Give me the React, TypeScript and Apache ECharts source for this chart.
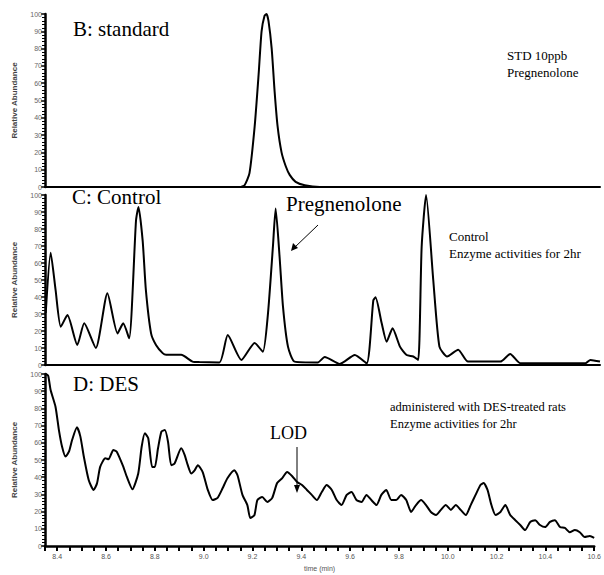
import React, { useEffect, useRef } from "react";
import * as echarts from "echarts";

const xTicks = [8.4, 8.6, 8.8, 9.0, 9.2, 9.4, 9.6, 9.8, 10.0, 10.2, 10.4, 10.6];
const yTicks = [0, 10, 20, 30, 40, 50, 60, 70, 80, 90, 100];

const standardB: [number, number][] = [
  [8.35, 0], [9.139, 0], [9.159, 1], [9.179, 8], [9.2, 35], [9.216, 65], [9.228, 90],
  [9.24, 99], [9.248, 100], [9.256, 96], [9.269, 80], [9.281, 55], [9.293, 35],
  [9.309, 20], [9.326, 12], [9.342, 7], [9.366, 3], [9.403, 1], [9.464, 0], [10.6, 0],
];

const controlC: [number, number][] = [
  [8.353, 30.6], [8.373, 66], [8.393, 44], [8.414, 22.5], [8.441, 29.4], [8.481, 11.8],
  [8.509, 24.5], [8.556, 10], [8.603, 42.2], [8.644, 18.6], [8.667, 24.5], [8.691, 15.7],
  [8.719, 85], [8.729, 93], [8.746, 73], [8.759, 44], [8.78, 18.6], [8.8, 11.8],
  [8.827, 7], [8.841, 6], [8.902, 6], [8.948, 2], [8.976, 1.7], [9.057, 1.5],
  [9.091, 17.6], [9.146, 3], [9.2, 13], [9.233, 7.8], [9.254, 30.4], [9.274, 69.6],
  [9.285, 92], [9.301, 63.7], [9.315, 34], [9.335, 10.8], [9.362, 2], [9.456, 1.5],
  [9.484, 4.7], [9.545, 0.6], [9.606, 5.9], [9.654, 1], [9.681, 38], [9.69, 39.8],
  [9.715, 24.5], [9.735, 13.7], [9.759, 21.6], [9.789, 10.8], [9.816, 5.9], [9.843, 5],
  [9.863, 3], [9.877, 69.6], [9.895, 100], [9.924, 50], [9.949, 10.8], [9.98, 5],
  [10.025, 9], [10.065, 2], [10.196, 2], [10.236, 6.5], [10.277, 1], [10.541, 1],
  [10.561, 3], [10.6, 2],
];

const desD: [number, number][] = [
  [8.353, 100], [8.363, 99], [8.373, 90.7], [8.393, 81], [8.407, 67.4], [8.42, 57.7],
  [8.434, 52], [8.448, 54.8], [8.461, 61.6], [8.481, 69], [8.495, 63.6], [8.509, 52],
  [8.529, 38.4], [8.549, 32.6], [8.563, 36.4], [8.576, 46], [8.597, 51], [8.61, 50.4],
  [8.63, 55.8], [8.644, 54.8], [8.671, 46], [8.685, 40.3], [8.708, 33], [8.732, 42.2],
  [8.746, 57.7], [8.759, 65.5], [8.773, 62.6], [8.789, 46], [8.8, 46], [8.813, 56.8],
  [8.827, 66.5], [8.841, 67.4], [8.854, 60.6], [8.867, 47], [8.881, 48], [8.908, 56.8],
  [8.922, 53], [8.935, 47], [8.949, 42.2], [8.963, 44], [8.976, 47], [8.996, 43],
  [9.017, 32.6], [9.037, 26.7], [9.057, 28], [9.078, 33.7], [9.098, 39.5], [9.126, 44],
  [9.139, 41], [9.159, 29.7], [9.179, 23.8], [9.191, 16.3], [9.208, 18], [9.22, 26.7],
  [9.24, 28.5], [9.261, 25.6], [9.281, 28], [9.301, 36.6], [9.322, 39.5], [9.342, 43],
  [9.362, 40.7], [9.383, 37.2], [9.403, 35.5], [9.423, 32.6], [9.443, 29.7], [9.464, 26.7],
  [9.484, 31.4], [9.504, 35.5], [9.525, 32.6], [9.545, 26.7], [9.565, 23.8], [9.586, 29.7],
  [9.606, 31.4], [9.626, 26.7], [9.647, 25.6], [9.667, 29.7], [9.687, 26.7], [9.708, 23.8],
  [9.728, 29.7], [9.748, 32.6], [9.769, 26.7], [9.789, 26.7], [9.809, 29.7], [9.83, 26.7],
  [9.85, 19.8], [9.87, 23.8], [9.891, 26.7], [9.911, 23.8], [9.931, 19.8], [9.952, 18],
  [9.972, 21], [9.992, 23.8], [10.013, 21], [10.033, 23.8], [10.053, 21], [10.074, 18],
  [10.094, 23.8], [10.114, 29.7], [10.134, 35.5], [10.147, 36.6], [10.163, 32.6],
  [10.179, 23.8], [10.196, 18], [10.216, 19.8], [10.236, 23.8], [10.256, 18], [10.277, 15],
  [10.297, 12.2], [10.317, 9.3], [10.338, 14], [10.358, 15], [10.378, 12.2], [10.399, 11],
  [10.419, 14], [10.439, 15], [10.46, 11], [10.48, 10.5], [10.5, 8], [10.521, 9.3],
  [10.541, 8], [10.561, 5.2], [10.582, 5.8], [10.6, 4.7],
];

const SERIF = "'Liberation Serif', 'DejaVu Serif', serif";
const SANS = "'Liberation Sans', Arial, sans-serif";

export default function App() {
  const ref = useRef<HTMLDivElement>(null);
  useEffect(() => {
    document.body.style.margin = "0";
    const chart = echarts.init(ref.current!, null, { renderer: "svg" });
    const grids = [
      { left: 45, right: 4, top: 14, height: 173 },
      { left: 45, right: 4, top: 195, height: 170 },
      { left: 45, right: 4, top: 374, height: 172 },
    ];
    const mkX = (i: number) => ({
      type: "value",
      gridIndex: i,
      min: 8.35,
      max: 10.6,
      interval: 0.05,
      axisLine: { show: true, onZero: false, lineStyle: { color: "#000", width: i === 2 ? 2.5 : 2 } },
      axisTick: { show: i === 2, length: 5, lineStyle: { color: "#000", width: 2 } },
      axisLabel: {
        show: i === 2,
        fontSize: 7,
        color: "#555",
        fontFamily: SANS,
        margin: 7,
        formatter: (v: number) => {
          const r = Math.round(v * 100);
          const hit = xTicks.find((t) => Math.round(t * 100) === r);
          return hit !== undefined ? hit.toFixed(1) : "";
        },
      },
      splitLine: { show: false },
      name: i === 2 ? "time (min)" : "",
      nameLocation: "middle",
      nameGap: 19,
      nameTextStyle: { fontSize: 7, color: "#555", fontFamily: SANS },
    });
    const mkY = (i: number) => ({
      type: "value",
      gridIndex: i,
      min: yTicks[0],
      max: yTicks[yTicks.length - 1],
      interval: 10,
      axisLine: { show: true, lineStyle: { color: "#000", width: 2.5 } },
      axisTick: { show: true, length: 4, lineStyle: { color: "#000", width: 1.5 } },
      minorTick: { show: true, splitNumber: 5, length: 3, lineStyle: { color: "#000", width: 1 } },
      axisLabel: { fontSize: 7, color: "#666", fontFamily: SANS, margin: 3 },
      splitLine: { show: false },
      name: "Relative Abundance",
      nameLocation: "middle",
      nameRotate: 90,
      nameGap: 27,
      nameTextStyle: { fontSize: 8, color: "#444", fontWeight: "bold", fontFamily: SANS },
    });
    const lineStyle = { color: "#000", width: 2 };
    const mkSeries = (i: number, data: [number, number][]) => ({
      type: "line",
      xAxisIndex: i,
      yAxisIndex: i,
      data,
      showSymbol: false,
      smooth: 0.2,
      lineStyle,
    });
    const text = (x: number, y: number, t: string, size: number) => ({
      type: "text",
      x,
      y,
      style: { text: t, fontSize: size, fontFamily: SERIF, fill: "#000" },
    });
    chart.setOption({
      animation: false,
      backgroundColor: "#fff",
      grid: grids,
      xAxis: [mkX(0), mkX(1), mkX(2)],
      yAxis: [mkY(0), mkY(1), mkY(2)],
      series: [mkSeries(0, standardB), mkSeries(1, controlC), mkSeries(2, desD)],
      graphic: [
        text(73, 18, "B: standard", 21),
        text(507, 49, "STD 10ppb", 13),
        text(507, 66, "Pregnenolone", 13),
        text(72, 186, "C: Control", 21),
        text(286, 193, "Pregnenolone", 21),
        { type: "line", shape: { x1: 318, y1: 225, x2: 294, y2: 248 }, style: { stroke: "#000", lineWidth: 1 } },
        { type: "polygon", shape: { points: [[291, 251], [293, 243], [298, 248]] }, style: { fill: "#000" } },
        text(449, 230, "Control", 13),
        text(449, 247, "Enzyme activities for 2hr", 13),
        text(73, 373, "D: DES", 21),
        text(390, 400, "administered with DES-treated rats", 12.5),
        text(390, 417, "Enzyme activities for 2hr", 12.5),
        text(270, 424, "LOD", 18),
        { type: "line", shape: { x1: 297, y1: 447, x2: 297, y2: 487 }, style: { stroke: "#000", lineWidth: 1 } },
        { type: "polygon", shape: { points: [[297, 493], [294, 485], [300, 485]] }, style: { fill: "#000" } },
      ],
    });
    return () => chart.dispose();
  }, []);
  return <div ref={ref} style={{ width: 604, height: 575 }} />;
}
